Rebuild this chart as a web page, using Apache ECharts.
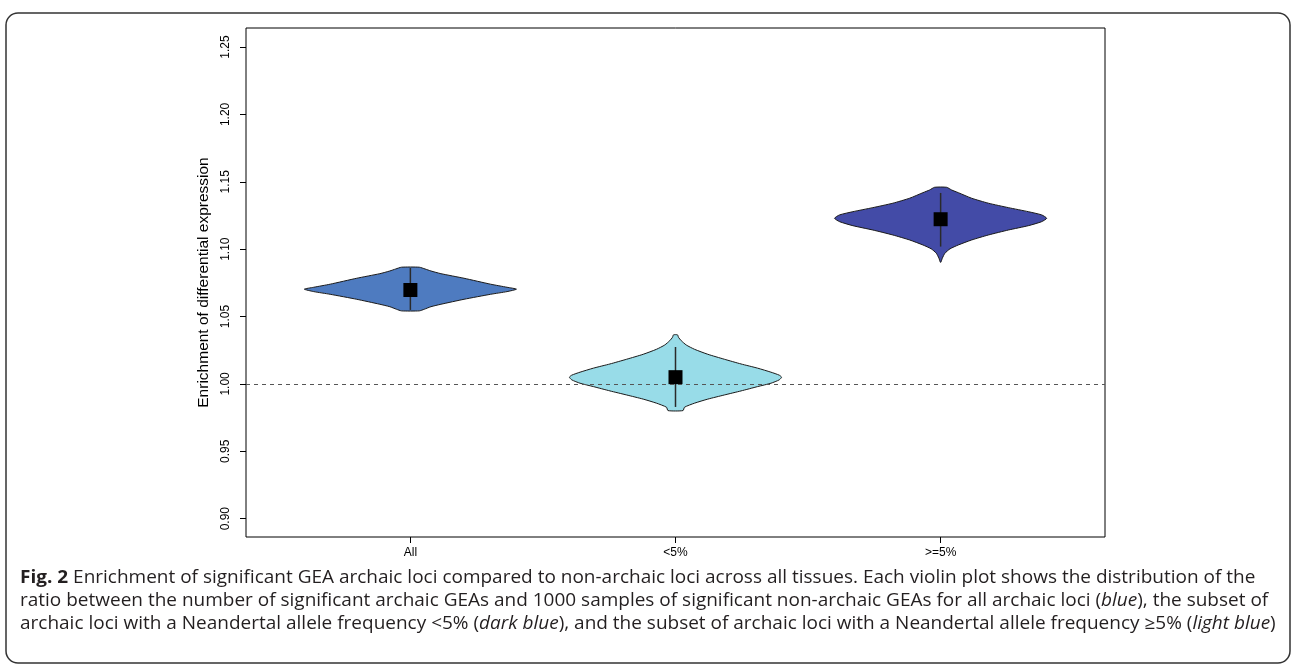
<!DOCTYPE html>
<html><head><meta charset="utf-8">
<script src="https://cdn.jsdelivr.net/npm/echarts@6/dist/echarts.min.js"></script>
<style>html,body{margin:0;padding:0;background:#fff}#c{width:1293px;height:666px}</style>
</head><body><div id="c"></div>
<script>
// ---- data ----
const categories = ['All', '<5%', '>=5%'];
const yTicks = [0.90, 0.95, 1.00, 1.05, 1.10, 1.15, 1.20, 1.25];
const refValue = 1.00;

// violin outlines: value (y) and relative density (0..1)
const allValues   = [1.0866, 1.0853, 1.0838, 1.0818, 1.0784, 1.0740, 1.0717, 1.0703, 1.0685, 1.0665, 1.0628, 1.0591, 1.0573, 1.0554, 1.0542];
const allDensity  = [0.084, 0.138, 0.194, 0.288, 0.506, 0.756, 0.912, 1.0, 0.912, 0.756, 0.506, 0.288, 0.194, 0.131, 0.084];

const lowValues   = [1.0364, 1.0346, 1.0321, 1.0289, 1.0257, 1.0220, 1.0183, 1.0148, 1.0117, 1.0087, 1.0065, 1.0050, 1.0030, 1.0005, 0.9980, 0.9948, 0.9918, 0.9887, 0.9857, 0.9827, 0.9802];
const lowDensity  = [0.019, 0.028, 0.054, 0.101, 0.179, 0.304, 0.461, 0.618, 0.774, 0.900, 0.978, 1.0, 0.978, 0.900, 0.774, 0.618, 0.461, 0.304, 0.179, 0.085, 0.071];

const highValues  = [1.1459, 1.1439, 1.1419, 1.1378, 1.1341, 1.1308, 1.1278, 1.1254, 1.1229, 1.1204, 1.1174, 1.1142, 1.1105, 1.1068, 1.1031, 1.1002, 1.0970, 1.0933, 1.0903];
const highDensity = [0.057, 0.104, 0.167, 0.292, 0.450, 0.639, 0.827, 0.953, 1.0, 0.953, 0.827, 0.639, 0.450, 0.292, 0.167, 0.088, 0.041, 0.016, 0.003];

const centerValues = [1.0697, 1.0050, 1.1222];
const whiskerLow   = [1.0549, 0.9829, 1.1019];
const whiskerHigh  = [1.0860, 1.0274, 1.1417];

// ---- styles ----
const violinValues = [allValues, lowValues, highValues];
const violinDensity = [allDensity, lowDensity, highDensity];
const violinColors = ['#4E7BC0', '#98DCE8', '#434BA7'];
const HALF = 0.4;
const SQ = 14;

function renderViolin(params, api) {
  const i = params.dataIndex;
  const cx = api.value(0);
  const vals = violinValues[i], dens = violinDensity[i];
  const pts = [];
  for (let k = 0; k < vals.length; k++) pts.push(api.coord([cx + HALF * dens[k], vals[k]]));
  for (let k = vals.length - 1; k >= 0; k--) pts.push(api.coord([cx - HALF * dens[k], vals[k]]));
  const top = api.coord([cx, whiskerHigh[i]]);
  const bot = api.coord([cx, whiskerLow[i]]);
  const c = api.coord([cx, api.value(1)]);
  return {
    type: 'group',
    children: [
      { type: 'polygon', shape: { points: pts, smooth: 0.2 },
        style: { fill: violinColors[i], stroke: '#1a1a1a', lineWidth: 1 } },
      { type: 'line', shape: { x1: top[0], y1: top[1], x2: bot[0], y2: bot[1] },
        style: { stroke: '#2a2a2a', lineWidth: 1.5 } },
      { type: 'rect', shape: { x: c[0] - SQ / 2, y: c[1] - SQ / 2, width: SQ, height: SQ },
        style: { fill: '#000' } }
    ]
  };
}

const capFont = '"Open Sans", "Noto Sans", sans-serif';
const capSize = 17.5;
const capScaleX = 1.085;
const capColor = '#231f20';
const rich = {
  n: { fontFamily: capFont, fontSize: capSize, fontWeight: 'normal', fill: capColor },
  b: { fontFamily: capFont, fontSize: capSize, fontWeight: 'bold', fill: capColor },
  i: { fontFamily: capFont, fontSize: capSize, fontStyle: 'italic', fill: capColor }
};
const captionLines = [
  '{b|Fig. 2}{n| Enrichment of significant GEA archaic loci compared to non-archaic loci across all tissues. Each violin plot shows the distribution of the}',
  '{n|ratio between the number of significant archaic GEAs and 1000 samples of significant non-archaic GEAs for all archaic loci (}{i|blue}{n|), the subset of}',
  '{n|archaic loci with a Neandertal allele frequency <5% (}{i|dark blue}{n|), and the subset of archaic loci with a Neandertal allele frequency ≥5% (}{i|light blue}{n|)}'
];
const captionY = [578, 601, 624];

const chart = echarts.init(document.getElementById('c'), null, { renderer: 'canvas' });
chart.setOption({
  animation: false,
  backgroundColor: '#fff',
  grid: { left: 246, right: 188, top: 28, bottom: 129, show: true, borderColor: '#000', borderWidth: 1, backgroundColor: 'transparent' },
  xAxis: {
    type: 'value', min: 0.38, max: 3.62,
    axisLine: { show: false },
    splitLine: { show: false },
    axisTick: { show: true, customValues: [1, 2, 3], length: 6, lineStyle: { color: '#000' } },
    axisLabel: { customValues: [1, 2, 3], formatter: v => categories[Math.round(v) - 1],
      color: '#000', fontSize: 12, fontFamily: '"Liberation Sans", Arial, sans-serif', margin: 10 }
  },
  yAxis: {
    type: 'value', min: 0.8864, max: 1.2641,
    name: 'Enrichment of differential expression',
    nameLocation: 'middle', nameRotate: 90, nameGap: 32,
    nameTextStyle: { color: '#000', fontSize: 15.5, fontFamily: '"Liberation Sans", Arial, sans-serif' },
    axisLine: { show: false },
    splitLine: { show: false },
    axisTick: { show: true, customValues: yTicks, length: 6, lineStyle: { color: '#000' } },
    axisLabel: { customValues: yTicks, formatter: v => v.toFixed(2), rotate: 90,
      color: '#000', fontSize: 12, fontFamily: '"Liberation Sans", Arial, sans-serif', margin: 14 }
  },
  series: [
    {
      type: 'line', data: [], z: 1,
      markLine: { silent: true, symbol: 'none', label: { show: false },
        lineStyle: { color: '#555', type: [4, 4], width: 1 },
        data: [{ yAxis: refValue }] }
    },
    {
      type: 'custom', z: 3,
      renderItem: renderViolin,
      data: categories.map((c, i) => [i + 1, centerValues[i]])
    }
  ],
  graphic: [
    { type: 'rect', shape: { x: 6, y: 13, width: 1284, height: 650, r: 12 },
      style: { fill: 'none', stroke: '#333', lineWidth: 1.5 }, z: 0 }
  ].concat(captionLines.map((t, k) => ({
    type: 'text', x: 20, y: captionY[k], scaleX: capScaleX,
    style: { text: t, rich: rich, verticalAlign: 'middle', align: 'left', fill: capColor,
      fontFamily: capFont, fontSize: capSize }
  })))
});
</script></body></html>
